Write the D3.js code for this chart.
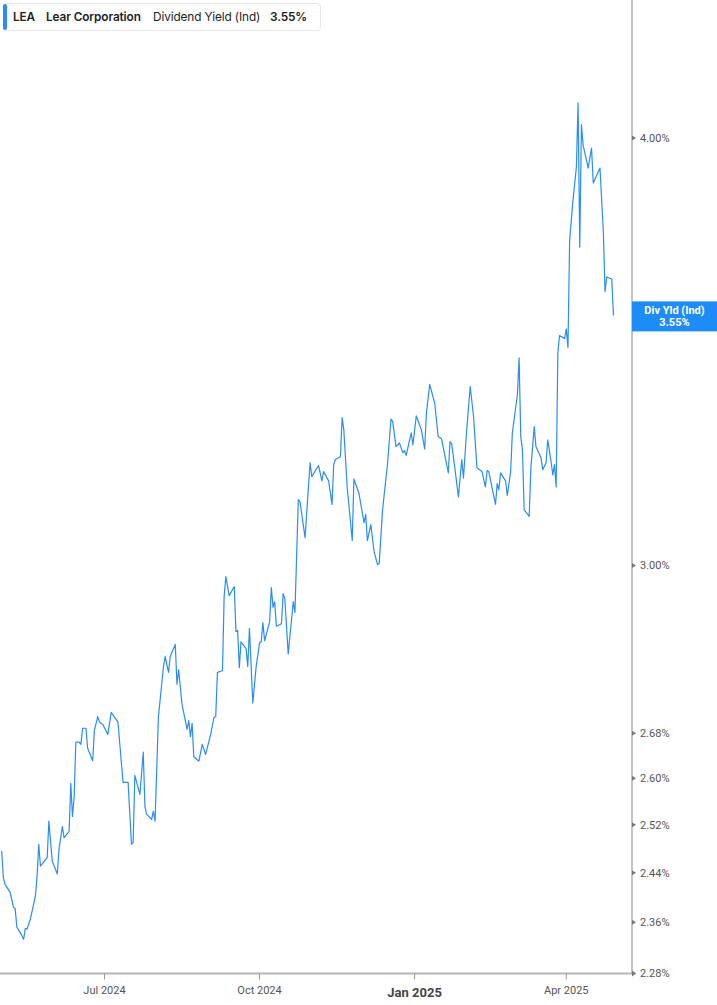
<!DOCTYPE html>
<html>
<head>
<meta charset="utf-8">
<script src="https://cdn.jsdelivr.net/npm/d3@7"></script>
<style>
  html, body { margin: 0; padding: 0; background: #fff; }
  svg { display: block; }
</style>
</head>
<body>
<div id="chart"></div>
<script>
// daily dividend yield readings (%), LEA
var dates = [
  "2024-05-01","2024-05-02","2024-05-03","2024-05-06","2024-05-08","2024-05-09","2024-05-10","2024-05-12","2024-05-14","2024-05-15",
  "2024-05-16","2024-05-18","2024-05-21","2024-05-22","2024-05-23","2024-05-24","2024-05-28","2024-05-29","2024-05-31","2024-06-03",
  "2024-06-04","2024-06-06","2024-06-07","2024-06-10","2024-06-11","2024-06-12","2024-06-13","2024-06-14","2024-06-16","2024-06-17",
  "2024-06-18","2024-06-20","2024-06-21","2024-06-24","2024-06-25","2024-06-27","2024-06-28","2024-06-30","2024-07-03","2024-07-05",
  "2024-07-09","2024-07-12","2024-07-15","2024-07-17","2024-07-18","2024-07-19","2024-07-22","2024-07-24","2024-07-25","2024-07-26",
  "2024-07-29","2024-07-30","2024-07-31","2024-08-02","2024-08-05","2024-08-06","2024-08-08","2024-08-09","2024-08-12","2024-08-13",
  "2024-08-14","2024-08-16","2024-08-19","2024-08-20","2024-08-21","2024-08-22","2024-08-23","2024-08-26","2024-08-28","2024-08-30",
  "2024-09-02","2024-09-04","2024-09-05","2024-09-06","2024-09-09","2024-09-10","2024-09-11","2024-09-13","2024-09-16","2024-09-17",
  "2024-09-18","2024-09-19","2024-09-20","2024-09-23","2024-09-24","2024-09-25","2024-09-27","2024-09-29","2024-10-01","2024-10-02",
  "2024-10-03","2024-10-04","2024-10-07","2024-10-08","2024-10-09","2024-10-10","2024-10-11","2024-10-14","2024-10-15","2024-10-16",
  "2024-10-18","2024-10-20","2024-10-21","2024-10-22","2024-10-24","2024-10-25","2024-10-28","2024-10-31","2024-11-01","2024-11-05",
  "2024-11-07","2024-11-08","2024-11-11","2024-11-13","2024-11-14","2024-11-15","2024-11-18","2024-11-19","2024-11-20","2024-11-22",
  "2024-11-25","2024-11-26","2024-11-29","2024-12-02","2024-12-03","2024-12-04","2024-12-06","2024-12-08","2024-12-10","2024-12-11",
  "2024-12-13","2024-12-16","2024-12-18","2024-12-19","2024-12-21","2024-12-23","2024-12-25","2024-12-26","2024-12-27","2024-12-30",
  "2024-12-31","2025-01-02","2025-01-05","2025-01-07","2025-01-08","2025-01-10","2025-01-13","2025-01-15","2025-01-17","2025-01-21",
  "2025-01-22","2025-01-23","2025-01-25","2025-01-27","2025-01-29","2025-01-30","2025-02-01","2025-02-03","2025-02-05","2025-02-07",
  "2025-02-10","2025-02-12","2025-02-13","2025-02-14","2025-02-18","2025-02-19","2025-02-20","2025-02-21","2025-02-24","2025-02-25",
  "2025-02-27","2025-02-28","2025-03-03","2025-03-04","2025-03-05","2025-03-06","2025-03-07","2025-03-10","2025-03-11","2025-03-13",
  "2025-03-14","2025-03-17","2025-03-18","2025-03-20","2025-03-21","2025-03-23","2025-03-24","2025-03-25","2025-03-26","2025-03-27",
  "2025-03-28","2025-03-31","2025-04-01","2025-04-02","2025-04-03","2025-04-05","2025-04-07","2025-04-08","2025-04-09","2025-04-10",
  "2025-04-11","2025-04-14","2025-04-16","2025-04-17","2025-04-21","2025-04-23","2025-04-24","2025-04-25","2025-04-28","2025-04-29"
];
var yields = [
  2.476,2.432,2.421,2.408,2.384,2.382,2.352,2.344,2.333,2.350,
  2.349,2.365,2.402,2.434,2.487,2.451,2.465,2.526,2.459,2.438,
  2.479,2.517,2.498,2.509,2.591,2.534,2.568,2.664,2.664,2.660,
  2.689,2.689,2.653,2.631,2.685,2.710,2.700,2.696,2.678,2.718,
  2.700,2.593,2.593,2.487,2.490,2.605,2.572,2.646,2.551,2.538,
  2.529,2.543,2.526,2.710,2.803,2.822,2.792,2.822,2.845,2.770,
  2.797,2.733,2.687,2.703,2.674,2.698,2.638,2.630,2.660,2.642,
  2.678,2.709,2.710,2.792,2.795,2.938,2.978,2.940,2.958,2.870,
  2.872,2.801,2.850,2.837,2.803,2.876,2.735,2.803,2.848,2.850,
  2.887,2.852,2.889,2.956,2.917,2.928,2.880,2.885,2.944,2.934,
  2.827,2.893,2.928,2.907,3.136,3.132,3.057,3.215,3.185,3.209,
  3.176,3.196,3.176,3.126,3.211,3.222,3.228,3.314,3.287,3.163,
  3.051,3.180,3.149,3.088,3.105,3.051,3.084,3.028,3.002,3.004,
  3.115,3.215,3.311,3.305,3.250,3.258,3.237,3.241,3.231,3.280,
  3.254,3.318,3.287,3.245,3.325,3.389,3.345,3.272,3.267,3.193,
  3.261,3.256,3.200,3.142,3.222,3.182,3.291,3.384,3.316,3.204,
  3.196,3.163,3.198,3.196,3.126,3.170,3.157,3.193,3.176,3.145,
  3.196,3.280,3.366,3.450,3.272,3.243,3.115,3.101,3.204,3.294,
  3.250,3.226,3.200,3.215,3.265,3.217,3.189,3.211,3.163,3.462,
  3.502,3.495,3.518,3.474,3.735,3.837,3.923,4.096,3.717,4.036,
  3.981,3.920,3.973,3.881,3.920,3.755,3.607,3.643,3.638,3.550
];
var yTicks = [2.28, 2.36, 2.44, 2.52, 2.60, 2.68, 3.00, 4.00];
var xTicks = ["2024-07-01", "2024-10-01", "2025-01-01", "2025-04-01"];
var xDomain = ["2024-04-30", "2025-05-10"];
var yDomain = [2.28, 4.00];
var lastLabel = "Div Yld (Ind)";

var W = 717, H = 1005;
var o = { plotRight: 632, plotBottom: 973.5, yTop: 138 };
var parse = d3.timeParse("%Y-%m-%d");
var blue = "#2a8cf5";

var data = dates.map(function (d, i) {
    return { date: parse(d), value: yields[i] };
});

var svg = d3.select("#chart").append("svg")
    .attr("width", W)
    .attr("height", H);

var x = d3.scaleTime()
        .domain(xDomain.map(parse))
        .range([0, o.plotRight]),
    y = d3.scaleLog()
        .domain(yDomain)
        .range([o.plotBottom, o.yTop]);

// line
var line = d3.line()
    .x(function (d) { return x(d.date); })
    .y(function (d) { return y(d.value); });

svg.append("path")
    .datum(data)
    .attr("fill", "none")
    .attr("stroke", blue)
    .attr("stroke-width", 1.2)
    .attr("stroke-linejoin", "round")
    .attr("d", line);

// bottom axis
var gx = svg.append("g").attr("transform", "translate(0," + o.plotBottom + ")");
gx.append("line")
    .attr("x1", 0).attr("x2", o.plotRight)
    .attr("stroke", "#b5b5b5").attr("stroke-width", 2);
gx.append("path")
    .attr("d", "M" + o.plotRight + ",-3L" + (o.plotRight + 4) + ",0L" + o.plotRight + ",3Z")
    .attr("fill", "#888");
var fmtX = d3.timeFormat("%b %Y");
xTicks.forEach(function (t) {
    var d = parse(t);
    var isYear = d.getMonth() === 0;
    gx.append("line")
        .attr("x1", x(d)).attr("x2", x(d))
        .attr("y1", 0).attr("y2", 6)
        .attr("stroke", "#999").attr("stroke-width", 1);
    gx.append("text")
        .attr("x", x(d))
        .attr("y", isYear ? 23 : 20)
        .attr("text-anchor", "middle")
        .style("font-family", "Roboto, 'Liberation Sans', sans-serif")
        .style("font-size", isYear ? "13px" : "11px")
        .style("font-weight", isYear ? "bold" : "normal")
        .style("fill", isYear ? "#444" : "#555")
        .text(fmtX(d));
});

// right axis
var gy = svg.append("g").attr("transform", "translate(" + o.plotRight + ",0)");
gy.append("line")
    .attr("y1", 0).attr("y2", o.plotBottom)
    .attr("stroke", "#999").attr("stroke-width", 1.2);
yTicks.forEach(function (t) {
    gy.append("path")
        .attr("d", "M0," + (y(t) - 2.5) + "L4," + y(t) + "L0," + (y(t) + 2.5) + "Z")
        .attr("fill", "#777");
    gy.append("text")
        .attr("x", 8)
        .attr("y", y(t))
        .attr("dy", "0.35em")
        .style("font-family", "Roboto, 'Liberation Sans', sans-serif")
        .style("font-size", "11px")
        .style("fill", "#555")
        .text(t.toFixed(2) + "%");
});

// last value tag
var last = data[data.length - 1];
var tag = gy.append("g").attr("transform", "translate(0," + y(last.value) + ")");
tag.append("rect")
    .attr("x", 0).attr("y", -14)
    .attr("width", W - o.plotRight).attr("height", 30)
    .attr("fill", "#1e8cf7");
tag.append("text")
    .attr("x", (W - o.plotRight) / 2).attr("y", -1)
    .attr("text-anchor", "middle")
    .style("font-family", "Roboto, 'Liberation Sans', sans-serif")
    .style("font-size", "11px").style("font-weight", "bold")
    .style("fill", "#fff")
    .text(lastLabel);
tag.append("text")
    .attr("x", (W - o.plotRight) / 2).attr("y", 11)
    .attr("text-anchor", "middle")
    .style("font-family", "Roboto, 'Liberation Sans', sans-serif")
    .style("font-size", "11px").style("font-weight", "bold")
    .style("fill", "#fff")
    .text(last.value.toFixed(2) + "%");

// header legend box
var hdr = svg.append("g");
hdr.append("rect")
    .attr("x", 3.5).attr("y", 3.5).attr("width", 317).attr("height", 27)
    .attr("rx", 3).attr("fill", "#fff")
    .attr("stroke", "#e6e6e6");
hdr.append("rect")
    .attr("x", 3).attr("y", 4).attr("width", 4).attr("height", 26)
    .attr("rx", 2).attr("fill", blue);
var parts = [
    { t: "LEA", x: 13, w: "bold" },
    { t: "Lear Corporation", x: 46, w: "bold" },
    { t: "Dividend Yield (Ind)", x: 153, w: "normal" },
    { t: last.value.toFixed(2) + "%", x: 270, w: "bold" }
];
hdr.selectAll("text.part")
    .data(parts)
    .enter()
    .append("text")
    .classed("part", true)
    .attr("x", function (d) { return d.x; })
    .attr("y", 21)
    .style("font-family", "Inter, 'Noto Sans', sans-serif")
    .style("font-size", "11.8px")
    .style("font-weight", function (d) { return d.w === "bold" ? 600 : 400; })
    .style("letter-spacing", "-0.1px")
    .style("fill", "#222")
    .text(function (d) { return d.t; });
</script>
</body>
</html>
